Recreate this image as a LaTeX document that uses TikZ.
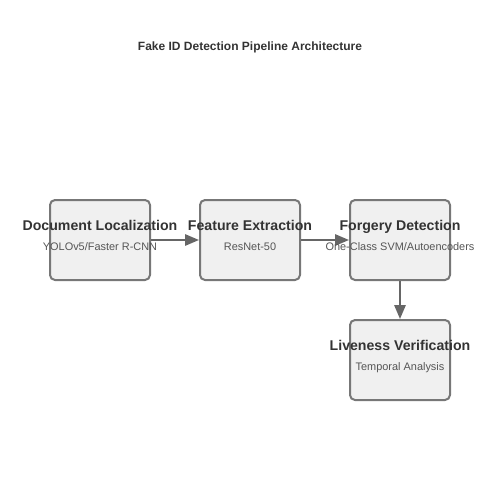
\documentclass[tikz,border=0pt]{standalone}
\usepackage{fontspec}
\setmainfont{Liberation Sans}
\usetikzlibrary{arrows.meta}
\definecolor{boxfill}{HTML}{F0F0F0}
\definecolor{boxline}{HTML}{777777}
\definecolor{titletext}{HTML}{333333}
\definecolor{subtext}{HTML}{555555}
\definecolor{arrowc}{HTML}{666666}
\begin{document}
\begin{tikzpicture}[x=0.75pt,y=-0.75pt,
  stage/.style={draw=boxline,fill=boxfill,line width=1.5pt,rounded corners=3.75pt,minimum width=75pt,minimum height=60pt,inner sep=0pt},
  stagetitle/.style={font=\bfseries\fontsize{10.6pt}{12pt}\selectfont,text=titletext,inner sep=0pt,anchor=base},
  stagesub/.style={font=\fontsize{8.2pt}{10pt}\selectfont,text=subtext,inner sep=0pt,anchor=base},
  flow/.style={draw=arrowc,line width=1.5pt,-{Triangle[length=10.5pt,width=8.5pt]}}]
\useasboundingbox (0,0) rectangle (500,500);
\node[font=\bfseries\fontsize{9pt}{11pt}\selectfont,text=titletext,inner sep=0pt,anchor=base] (title) at (250,50) {Fake ID Detection Pipeline Architecture};
\node[stage] (b1) at (100,240) {};
\node[stage] (b2) at (250,240) {};
\node[stage] (b3) at (400,240) {};
\node[stage] (b4) at (400,360) {};
\draw[flow] (b1.east) -- (b2.west);
\draw[flow] (b2.east) -- (b3.west);
\draw[flow] (b3.south) -- (b4.north);
\node[stagetitle] (t1) at (100,230) {Document Localization};
\node[stagesub] (s1) at (100,250) {YOLOv5/Faster R-CNN};
\node[stagetitle] (t2) at (250,230) {Feature Extraction};
\node[stagesub] (s2) at (250,250) {ResNet-50};
\node[stagetitle] (t3) at (400,230) {Forgery Detection};
\node[stagesub] (s3) at (400,250) {One-Class SVM/Autoencoders};
\node[stagetitle] (t4) at (400,350) {Liveness Verification};
\node[stagesub] (s4) at (400,370) {Temporal Analysis};
\end{tikzpicture}
\end{document}
